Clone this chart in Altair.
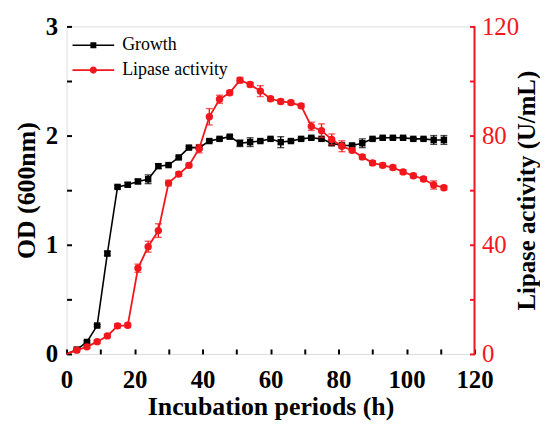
import altair as alt
import pandas as pd

# ---------------- data ----------------
time_h = [0, 3, 6, 9, 12, 15, 18, 21, 24, 27, 30, 33, 36, 39, 42, 45, 48, 51, 54,
          57, 60, 63, 66, 69, 72, 75, 78, 81, 84, 87, 90, 93, 96, 99, 102, 105, 108, 111]
growth_od = [0.0, 0.04, 0.11, 0.26, 0.92, 1.53, 1.55, 1.58, 1.60, 1.72, 1.73, 1.80,
             1.89, 1.89, 1.95, 1.97, 1.99, 1.93, 1.94, 1.95, 1.97, 1.94, 1.95, 1.97,
             1.98, 1.97, 1.93, 1.91, 1.91, 1.93, 1.97, 1.98, 1.98, 1.98, 1.97, 1.97,
             1.96, 1.96]
growth_err = [0.0, 0.01, 0.01, 0.01, 0.02, 0.01, 0.02, 0.02, 0.04, 0.02, 0.01, 0.01,
              0.01, 0.01, 0.01, 0.01, 0.01, 0.03, 0.04, 0.01, 0.01, 0.05, 0.01, 0.01,
              0.01, 0.01, 0.02, 0.01, 0.01, 0.04, 0.01, 0.01, 0.01, 0.01, 0.01, 0.01,
              0.04, 0.04]
lipase_act = [0.0, 1.4, 2.6, 4.5, 6.6, 10.3, 10.5, 31.4, 39.3, 45.2, 62.6, 65.9,
              69.1, 75.2, 86.9, 93.3, 95.7, 100.3, 98.7, 96.3, 93.5, 92.5, 92.1, 90.9,
              83.4, 81.8, 78.6, 76.1, 74.6, 72.2, 70.0, 69.1, 68.3, 66.7, 65.3, 64.1,
              61.9, 60.9]
lipase_err = [0.0, 0.6, 0.6, 0.6, 0.6, 0.8, 0.8, 1.5, 2.0, 2.5, 1.0, 0.8,
              0.8, 1.5, 3.0, 1.5, 0.8, 1.0, 0.8, 2.0, 0.8, 0.8, 0.8, 0.8,
              1.5, 2.5, 2.0, 2.0, 0.8, 0.8, 0.8, 0.8, 0.8, 0.8, 0.8, 0.8,
              1.5, 0.8]
series_names = ["Growth", "Lipase activity"]

BLACK = "#000000"
RED = "#f2171c"
FONT = "Liberation Serif"

df = pd.DataFrame({"time": time_h, "growth": growth_od, "gerr": growth_err,
                   "lipase": lipase_act, "lerr": lipase_err})
df["g_lo"] = df["growth"] - df["gerr"]
df["g_hi"] = df["growth"] + df["gerr"]
df["l_lo"] = df["lipase"] - df["lerr"]
df["l_hi"] = df["lipase"] + df["lerr"]
pts = df[df["time"] > 0]

legend_df = pd.DataFrame({"series": series_names, "time": [-50, -50], "growth": [-1, -1]})

# ---------------- axes ----------------
x_axis = alt.Axis(title="Incubation periods (h)", values=list(range(0, 121, 10)),
                  labelExpr="datum.value % 20 == 0 ? datum.label : ''",
                  offset=-5, tickSize=5, tickWidth=2, tickColor=BLACK, domain=False, grid=False,
                  labelFlush=False, labelOverlap=False,
                  labelPadding=14, labelFont=FONT, labelFontSize=25, labelFontWeight="bold",
                  labelColor=BLACK, titleFont=FONT, titleFontSize=26, titleFontWeight="bold",
                  titleColor=BLACK, titlePadding=1)
x_scale = alt.Scale(domain=[0, 120], nice=False, zero=False)
X = alt.X("time:Q", scale=x_scale, axis=x_axis)

g_axis = alt.Axis(title="OD (600nm)", values=[0, 0.5, 1, 1.5, 2, 2.5, 3],
                  labelExpr="datum.value % 1 == 0 ? format(datum.value, 'd') : ''",
                  offset=-5, tickSize=5, tickWidth=2, tickColor=BLACK, domain=False, grid=False,
                  labelFlush=False, labelOverlap=False,
                  labelPadding=9, labelFont=FONT, labelFontSize=25, labelFontWeight="bold",
                  labelColor=BLACK, titleFont=FONT, titleFontSize=26, titleFontWeight="bold",
                  titleColor=BLACK, titlePadding=6)
g_scale = alt.Scale(domain=[0, 3], nice=False, zero=False)

l_axis = alt.Axis(title="Lipase activity (U/mL)", orient="right", values=list(range(0, 121, 20)),
                  labelExpr="datum.value % 40 == 0 ? datum.label : ''",
                  offset=-5, tickSize=5, tickWidth=2, tickColor=RED, domain=False, grid=False,
                  labelFlush=False, labelOverlap=False,
                  labelPadding=7, labelFont=FONT, labelFontSize=25, labelFontWeight="normal",
                  labelColor=RED, titleFont=FONT, titleFontSize=25, titleFontWeight="bold",
                  titleColor=BLACK, titlePadding=-4, titleAngle=270, titleBaseline="top")
l_scale = alt.Scale(domain=[0, 120], nice=False, zero=False)

# ---------------- growth layers ----------------
g_line = alt.Chart(df).mark_line(color=BLACK, strokeWidth=1.6).encode(
    x=X, y=alt.Y("growth:Q", scale=g_scale, axis=g_axis))
g_err = alt.Chart(pts).mark_rule(color=BLACK, strokeWidth=1.4).encode(
    x=X, y=alt.Y("g_lo:Q", scale=g_scale, axis=g_axis), y2="g_hi:Q")
g_cap_lo = alt.Chart(pts).mark_tick(color=BLACK, orient="horizontal", size=7, thickness=1.4).encode(
    x=X, y=alt.Y("g_lo:Q", scale=g_scale, axis=g_axis))
g_cap_hi = alt.Chart(pts).mark_tick(color=BLACK, orient="horizontal", size=7, thickness=1.4).encode(
    x=X, y=alt.Y("g_hi:Q", scale=g_scale, axis=g_axis))
g_pts = alt.Chart(pts).mark_point(shape="square", filled=True, color=BLACK, size=42, opacity=1).encode(
    x=X, y=alt.Y("growth:Q", scale=g_scale, axis=g_axis))

# legend (symbol = line + marker drawn as one filled path)
sq_path = "M-7,-0.28H7V0.28H-7Z M-1,-1H1V1H-1Z"
ci_path = ("M-7,-0.28H7V0.28H-7Z M1.2,0A1.2,1.2 0 1,1 -1.2,0A1.2,1.2 0 1,1 1.2,0Z")
leg = alt.Legend(title=None, orient="none", legendX=18, legendY=10, labelFont=FONT,
                 labelFontSize=18, labelColor=BLACK, labelOffset=20, rowPadding=7,
                 symbolSize=36, symbolStrokeWidth=0, padding=0)
g_leg = alt.Chart(legend_df).mark_point(filled=True, opacity=1, clip=True, size=36).encode(
    x=X, y=alt.Y("growth:Q", scale=g_scale, axis=g_axis),
    color=alt.Color("series:N", scale=alt.Scale(domain=series_names, range=[BLACK, RED]), legend=leg),
    shape=alt.Shape("series:N", scale=alt.Scale(domain=series_names, range=[sq_path, ci_path]), legend=leg),
)

growth_layer = alt.layer(g_line, g_err, g_cap_lo, g_cap_hi, g_pts, g_leg)

# ---------------- lipase layers ----------------
l_line = alt.Chart(df).mark_line(color=RED, strokeWidth=1.8).encode(
    x=X, y=alt.Y("lipase:Q", scale=l_scale, axis=l_axis))
l_err = alt.Chart(pts).mark_rule(color=RED, strokeWidth=1.4).encode(
    x=X, y=alt.Y("l_lo:Q", scale=l_scale, axis=l_axis), y2="l_hi:Q")
l_cap_lo = alt.Chart(pts).mark_tick(color=RED, orient="horizontal", size=7, thickness=1.4).encode(
    x=X, y=alt.Y("l_lo:Q", scale=l_scale, axis=l_axis))
l_cap_hi = alt.Chart(pts).mark_tick(color=RED, orient="horizontal", size=7, thickness=1.4).encode(
    x=X, y=alt.Y("l_hi:Q", scale=l_scale, axis=l_axis))
l_pts = alt.Chart(pts).mark_point(shape="circle", filled=True, color=RED, size=55, opacity=1).encode(
    x=X, y=alt.Y("lipase:Q", scale=l_scale, axis=l_axis))
l_frame = alt.Chart(pd.DataFrame({"a": [0]})).mark_rule(color=RED, strokeWidth=2).encode(
    x=alt.X(datum=120, scale=x_scale, axis=x_axis),
    y=alt.Y(datum=0, scale=l_scale, axis=l_axis), y2=alt.Y2(datum=120))

lipase_layer = alt.layer(l_line, l_err, l_cap_lo, l_cap_hi, l_pts, l_frame)

chart = alt.layer(growth_layer, lipase_layer).resolve_scale(y="independent").properties(
    width=411, height=330,
    padding={"left": 5, "top": 5, "right": 0, "bottom": 0},
).configure_view(stroke=BLACK, strokeWidth=2).configure(background="white")

chart.save("out.html", embed_options={"renderer": "svg", "actions": False})
